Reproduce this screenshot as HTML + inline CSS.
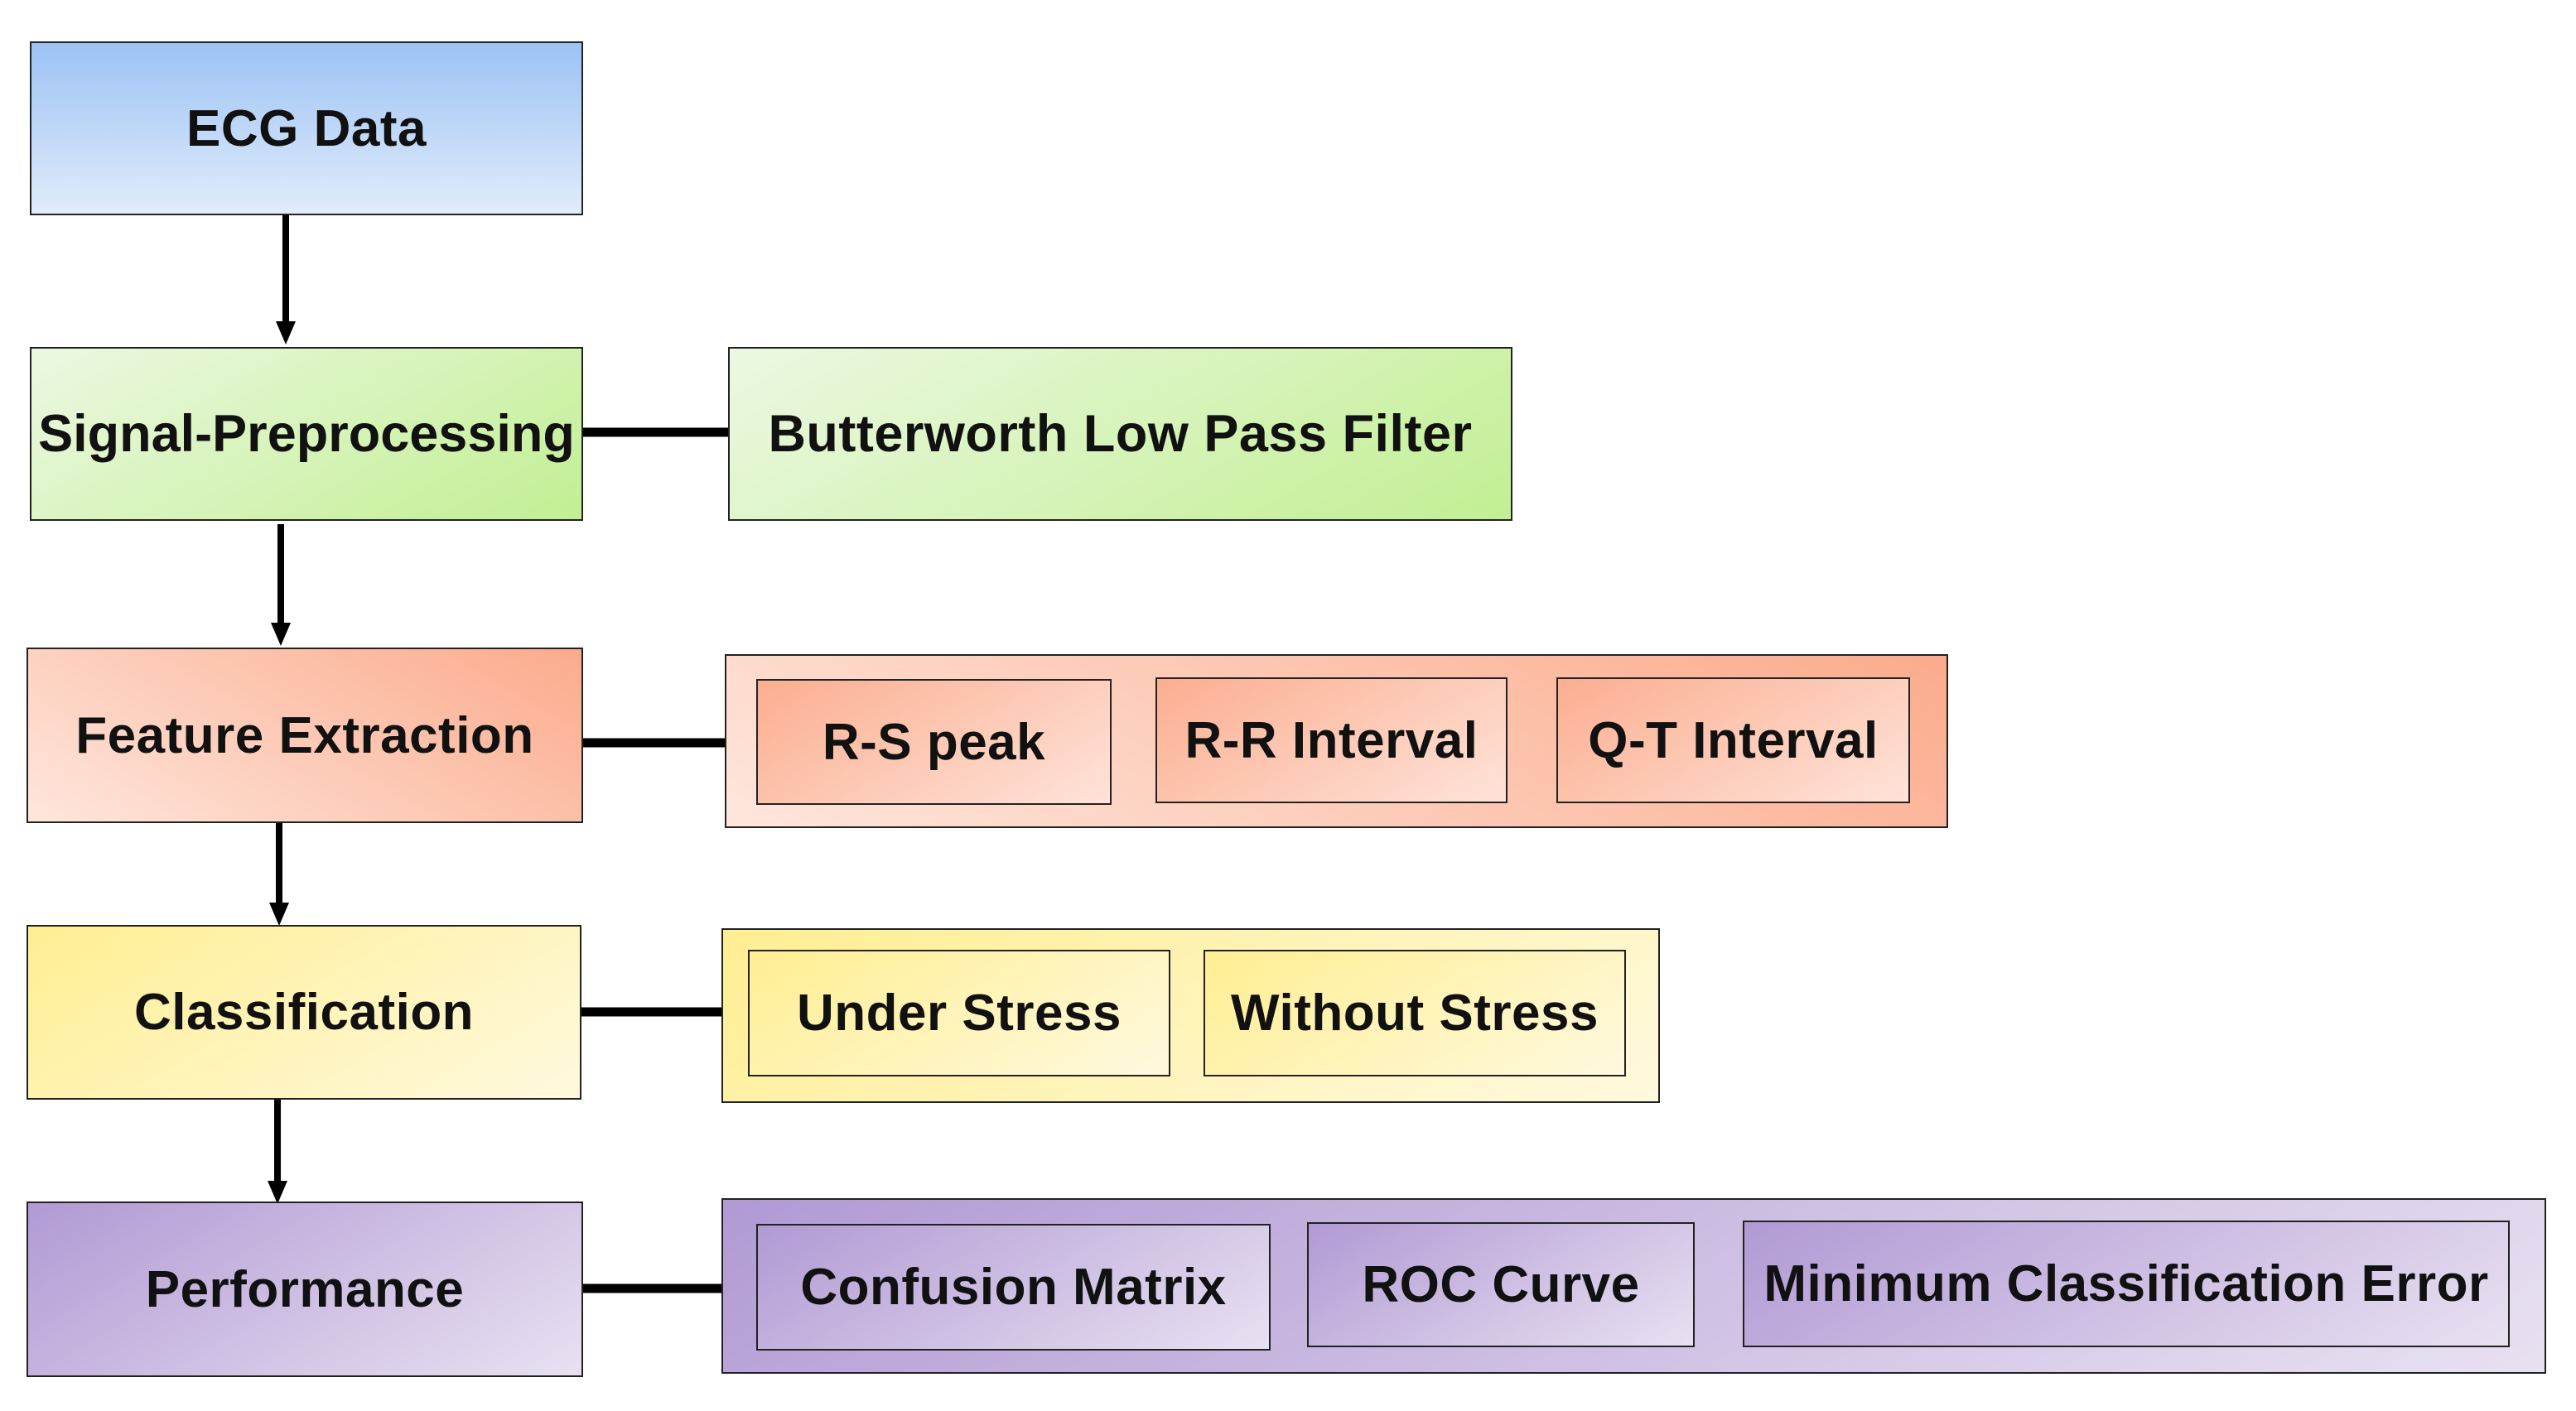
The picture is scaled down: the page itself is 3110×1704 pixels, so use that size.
<!DOCTYPE html>
<html><head><meta charset="utf-8"><style>
html,body{margin:0;padding:0;background:#fff;}
body{width:3110px;height:1704px;position:relative;overflow:hidden;font-family:"Liberation Sans",sans-serif;font-weight:bold;}
.b{position:absolute;box-sizing:border-box;border:2.5px solid #222;display:flex;align-items:center;justify-content:center;font-size:62px;letter-spacing:0.5px;color:#111;white-space:nowrap;}
.blue{background:linear-gradient(180deg,#9cc2f4,#e1ecfb);}
.green{background:linear-gradient(150deg,#ecf8e2,#c2ef93);}
.orange{background:linear-gradient(30deg,#fee6dc,#fbab8c);}
.orangei{background:linear-gradient(150deg,#fbae90,#fee3d9);}
.yellow{background:linear-gradient(150deg,#ffee92,#fff9de);}
.purple{background:linear-gradient(150deg,#b19ad4,#e8e1f1);}
</style></head><body>
<svg width="3110" height="1704" style="position:absolute;left:0;top:0">
<g stroke="#000" stroke-width="8">
<line x1="345" y1="256" x2="345" y2="390"/>
<line x1="339" y1="633" x2="339" y2="754"/>
<line x1="337" y1="994" x2="337" y2="1092"/>
<line x1="335" y1="1328" x2="335" y2="1428"/>
</g>
<g stroke="#000" stroke-width="11">
<line x1="702" y1="522" x2="881" y2="522"/>
<line x1="702" y1="897" x2="877" y2="897"/>
<line x1="700" y1="1222" x2="873" y2="1222"/>
<line x1="702" y1="1556" x2="873" y2="1556"/>
</g>
<g fill="#000">
<polygon points="333,388 357,388 345,416"/>
<polygon points="327,752 351,752 339,780"/>
<polygon points="325,1090 349,1090 337,1118"/>
<polygon points="323,1426 347,1426 335,1454"/>
</g>
</svg>
<div class="b blue" style="left:36px;top:50px;width:668px;height:210px">ECG Data</div>
<div class="b green" style="left:36px;top:419px;width:668px;height:210px;font-size:63px;letter-spacing:0">Signal-Preprocessing</div>
<div class="b green" style="left:879px;top:419px;width:947px;height:210px;font-size:63px">Butterworth Low Pass Filter</div>
<div class="b orange" style="left:32px;top:782px;width:672px;height:212px">Feature Extraction</div>
<div class="b orange" style="left:875px;top:790px;width:1477px;height:210px"></div>
<div class="b orangei" style="left:913px;top:820px;width:429px;height:152px">R-S peak</div>
<div class="b orangei" style="left:1395px;top:818px;width:425px;height:152px">R-R Interval</div>
<div class="b orangei" style="left:1879px;top:818px;width:427px;height:152px">Q-T Interval</div>
<div class="b yellow" style="left:32px;top:1117px;width:670px;height:211px">Classification</div>
<div class="b yellow" style="left:871px;top:1121px;width:1133px;height:211px"></div>
<div class="b yellow" style="left:903px;top:1147px;width:510px;height:153px">Under Stress</div>
<div class="b yellow" style="left:1453px;top:1147px;width:510px;height:153px">Without Stress</div>
<div class="b purple" style="left:32px;top:1451px;width:672px;height:212px">Performance</div>
<div class="b purple" style="left:871px;top:1447px;width:2203px;height:212px"></div>
<div class="b purple" style="left:913px;top:1478px;width:621px;height:153px">Confusion Matrix</div>
<div class="b purple" style="left:1578px;top:1476px;width:468px;height:151px">ROC Curve</div>
<div class="b purple" style="left:2104px;top:1474px;width:926px;height:153px;font-size:62px">Minimum Classification Error</div>
</body></html>
